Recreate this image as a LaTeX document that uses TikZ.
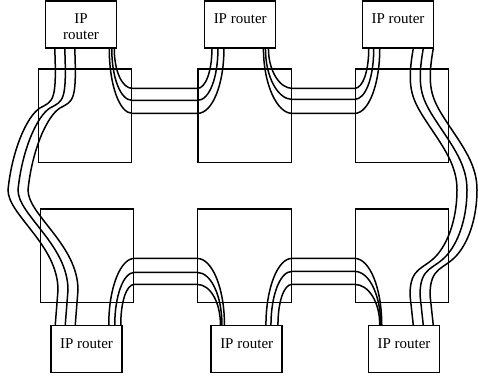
\documentclass[tikz,border=0pt]{standalone}
\usepackage{fontspec}
\setmainfont{Liberation Serif}
\usepackage{tikz}
\usetikzlibrary{positioning,calc}

\tikzset{
	router/.style={draw, line width=1.5pt, minimum width=71pt, minimum height=47pt, inner sep=0pt, text height=23pt, text depth=24pt, font=\fontsize{15}{16}\selectfont},
	router2/.style={draw, line width=1.5pt, minimum width=71pt, minimum height=47pt, inner sep=0pt, align=center, text height=31pt, text depth=0pt, font=\fontsize{15}{16}\selectfont},
	oxc/.style={draw, line width=1.3pt, minimum width=93.4pt, minimum height=93.3pt, inner sep=0pt},
	cable/.style={line width=1.5pt}
}

\begin{document}
\begin{tikzpicture}[x=1pt, y=-1pt]
	\useasboundingbox (0,0) rectangle (478,380);
	\node [oxc] (X1) at (85, 115.7) {};
	\node [oxc] (X2) at (244.8, 115.7) {};
	\node [oxc] (X3) at (402, 115.7) {};
	\node [oxc] (X4) at (87, 255.7) {};
	\node [oxc] (X5) at (244.5, 255.7) {};
	\node [oxc] (X6) at (402, 255.7) {};
	\node [router2] (R1) at (81, 24.3) {IP\\router};
	\node [router] (R2) at (240.2, 24.3) {IP router};
	\node [router] (R3) at (398, 24.3) {IP router};
	\node [router] (R4) at (86.5, 349.2) {IP router};
	\node [router] (R5) at (246.7, 349.2) {IP router};
	\node [router] (R6) at (404, 349.2) {IP router};
	% left and right bundles
	\foreach \d in {0,10,20}{
		\draw [cable] ($(R1.south west)+(10+\d,0)$) .. controls (57+\d,102) and (53+\d,101) .. (40+\d,108)
			.. controls (27+\d,116) and (12+\d,150) .. (8+\d,190)
			.. controls (8+\d,215) and (58+\d,245) .. (58+\d,290) -- ($(R4.north west)+(5+\d,0)$);
		\draw [cable] ($(R3.south east)+(-21+\d,0)$) .. controls (406+\d,90) and (412+\d,100) .. (430+\d,127)
			.. controls (447+\d,152) and (457+\d,168) .. (457+\d,190)
			.. controls (457+\d,215) and (450+\d,240) .. (437+\d,255)
			.. controls (424+\d,270) and (410+\d,266) .. (410+\d,295) -- ($(R6.north east)+(-27+\d,0)$);
	}
	% top links
	\foreach \a/\b/\h/\v/\p/\q in {-8/20/45/36/13/15, -5.5/14/32/29/12/12, -3/8/20/23/10/8}
		\draw [cable] ($(R1.south east)+(\a,0)$) .. controls +(0,\v) and +(-\p,0) .. ($(X1.north east)+(0,\h)$)
			-- ($(X2.north west)+(0,\h)$) .. controls +(\q,0) and +(0,\v) .. ($(R2.south west)+(\b,0)$);
	\foreach \a/\b/\h/\v/\p/\q in {-13/18/45/36/15/14, -11/12/31/29/14/11, -8/7/20/23/12/8}
		\draw [cable] ($(R2.south east)+(\a,0)$) .. controls +(0,\v) and +(-\p,0) .. ($(X2.north east)+(0,\h)$)
			-- ($(X3.north west)+(0,\h)$) .. controls +(\q,0) and +(0,\v) .. ($(R3.south west)+(\b,0)$);
	% bottom links
	\foreach \a/\b/\h/\v/\p/\q in {-14/14/50/37/14/15, -8/11.5/64/29/11/14, -2/10/76/23/8/13}
		\draw [cable] ($(R4.north east)+(\a,0)$) .. controls +(0,-\v) and +(-\p,0) .. ($(X4.north east)+(0,\h)$)
			-- ($(X5.north west)+(0,\h)$) .. controls +(\q,0) and +(0,-\v) .. ($(R5.north west)+(\b,0)$);
	\foreach \a/\b/\h/\v/\p/\q in {-17/14/50/37/14/15, -12/13/63/29/12/15, -5/12/76/23/8/14}
		\draw [cable] ($(R5.north east)+(\a,0)$) .. controls +(0,-\v) and +(-\p,0) .. ($(X5.north east)+(0,\h)$)
			-- ($(X6.north west)+(0,\h)$) .. controls +(\q,0) and +(0,-\v) .. ($(R6.north west)+(\b,0)$);
\end{tikzpicture}
\end{document}
